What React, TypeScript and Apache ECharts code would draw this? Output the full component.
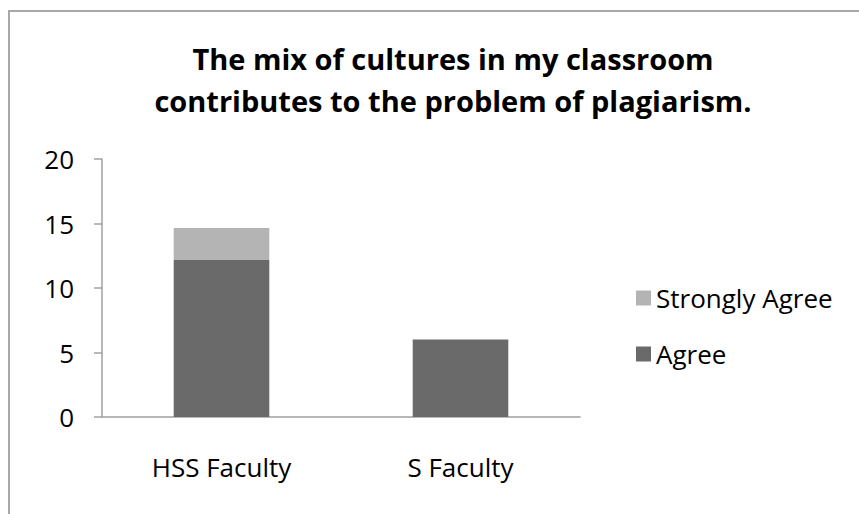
import React, { useEffect, useRef } from "react";
import * as echarts from "echarts";

const categories = ["HSS Faculty", "S Faculty"];
const agree = [12.2, 6];
const stronglyAgree = [2.45, 0];
const yTicks = { min: 0, max: 20, interval: 5 };
const titleText = "The mix of cultures in my classroom\ncontributes to the problem of plagiarism.";

const FONT = "'Open Sans', 'Noto Sans', sans-serif";

export default function App() {
  const ref = useRef<HTMLDivElement>(null);
  useEffect(() => {
    if (!ref.current) return;
    const chart = echarts.init(ref.current, null, { renderer: "svg" });
    chart.setOption({
      animation: false,
      backgroundColor: "#ffffff",
      title: {
        text: titleText,
        left: 448,
        top: 32,
        textAlign: "center",
        textStyle: {
          fontFamily: FONT,
          fontSize: 29,
          fontWeight: "bold",
          color: "#000",
          lineHeight: 42,
        },
      },
      graphic: [
        {
          type: "rect",
          shape: { x: 9, y: 11, width: 900, height: 600 },
          style: { fill: "none", stroke: "#a8a8a8", lineWidth: 2 },
          silent: true,
        },
      ],
      legend: {
        orient: "vertical",
        left: 631,
        top: 280,
        itemWidth: 15,
        itemHeight: 15,
        itemGap: 30,
        icon: "rect",
        data: ["Strongly Agree", "Agree"],
        textStyle: { fontFamily: FONT, fontSize: 26, color: "#000", padding: [0, 0, 0, 0] },
      },
      grid: { left: 102, right: 279, top: 159, bottom: 97 },
      xAxis: {
        type: "category",
        data: categories,
        axisLine: { lineStyle: { color: "#a0a0a0", width: 1.5 } },
        axisTick: { length: 9, lineStyle: { color: "#a0a0a0", width: 1.5 } },
        axisLabel: { fontFamily: FONT, fontSize: 26, color: "#000", margin: 37 },
      },
      yAxis: {
        type: "value",
        min: yTicks.min,
        max: yTicks.max,
        interval: yTicks.interval,
        splitLine: { show: false },
        axisLine: { show: true, lineStyle: { color: "#a0a0a0", width: 1.5 } },
        axisTick: { show: true, length: 8, lineStyle: { color: "#a0a0a0", width: 1.5 } },
        axisLabel: { fontFamily: FONT, fontSize: 26, color: "#000", margin: 28 },
      },
      series: [
        {
          name: "Agree",
          type: "bar",
          stack: "total",
          data: agree,
          barWidth: "40%",
          itemStyle: { color: "#6a6a6a" },
        },
        {
          name: "Strongly Agree",
          type: "bar",
          stack: "total",
          data: stronglyAgree,
          barWidth: "40%",
          itemStyle: { color: "#b4b4b4" },
        },
      ],
    });
    return () => chart.dispose();
  }, []);
  return (
    <div
      ref={ref}
      style={{ position: "fixed", left: 0, top: 0, width: 859, height: 514 }}
    />
  );
}
